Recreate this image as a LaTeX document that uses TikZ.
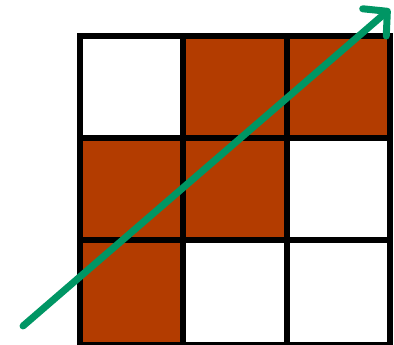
\documentclass[tikz,border=0pt]{standalone}
\usepackage{tikz}
\usetikzlibrary{arrows.meta}
\definecolor{cellrust}{RGB}{179,60,0}
\definecolor{arrowgreen}{RGB}{0,150,100}

\begin{document}
\begin{tikzpicture}[
  x=1pt,y=-1pt,
  cell/.style={fill=cellrust,draw=none},
  gridline/.style={line width=6pt,black,line cap=rect},
  diag/.style={line width=7pt,arrowgreen,line cap=round,
    -{Straight Barb[length=17pt,width=36pt,line cap=round,line join=round]}},
]
\useasboundingbox (0,0) rectangle (394,345);
% filled cells (col/row from top left)
\foreach \xa/\xb/\ya/\yb in {183/286.5/36/138, 286.5/390/36/138,
    79.5/183/138/240, 183/286.5/138/240, 79.5/183/240/345}
  \fill[cell] (\xa,\ya) rectangle (\xb,\yb);
% grid
\foreach \gx in {79.5,183,286.5,390}
  \draw[gridline] (\gx,36) -- (\gx,345);
\foreach \gy in {36,138,240,345}
  \draw[gridline] (79.5,\gy) -- (390,\gy);
% diagonal arrow
\coordinate (start) at (23,326);
\coordinate (tip) at (390,9);
\draw[diag] (start) -- (tip);
\end{tikzpicture}
\end{document}
